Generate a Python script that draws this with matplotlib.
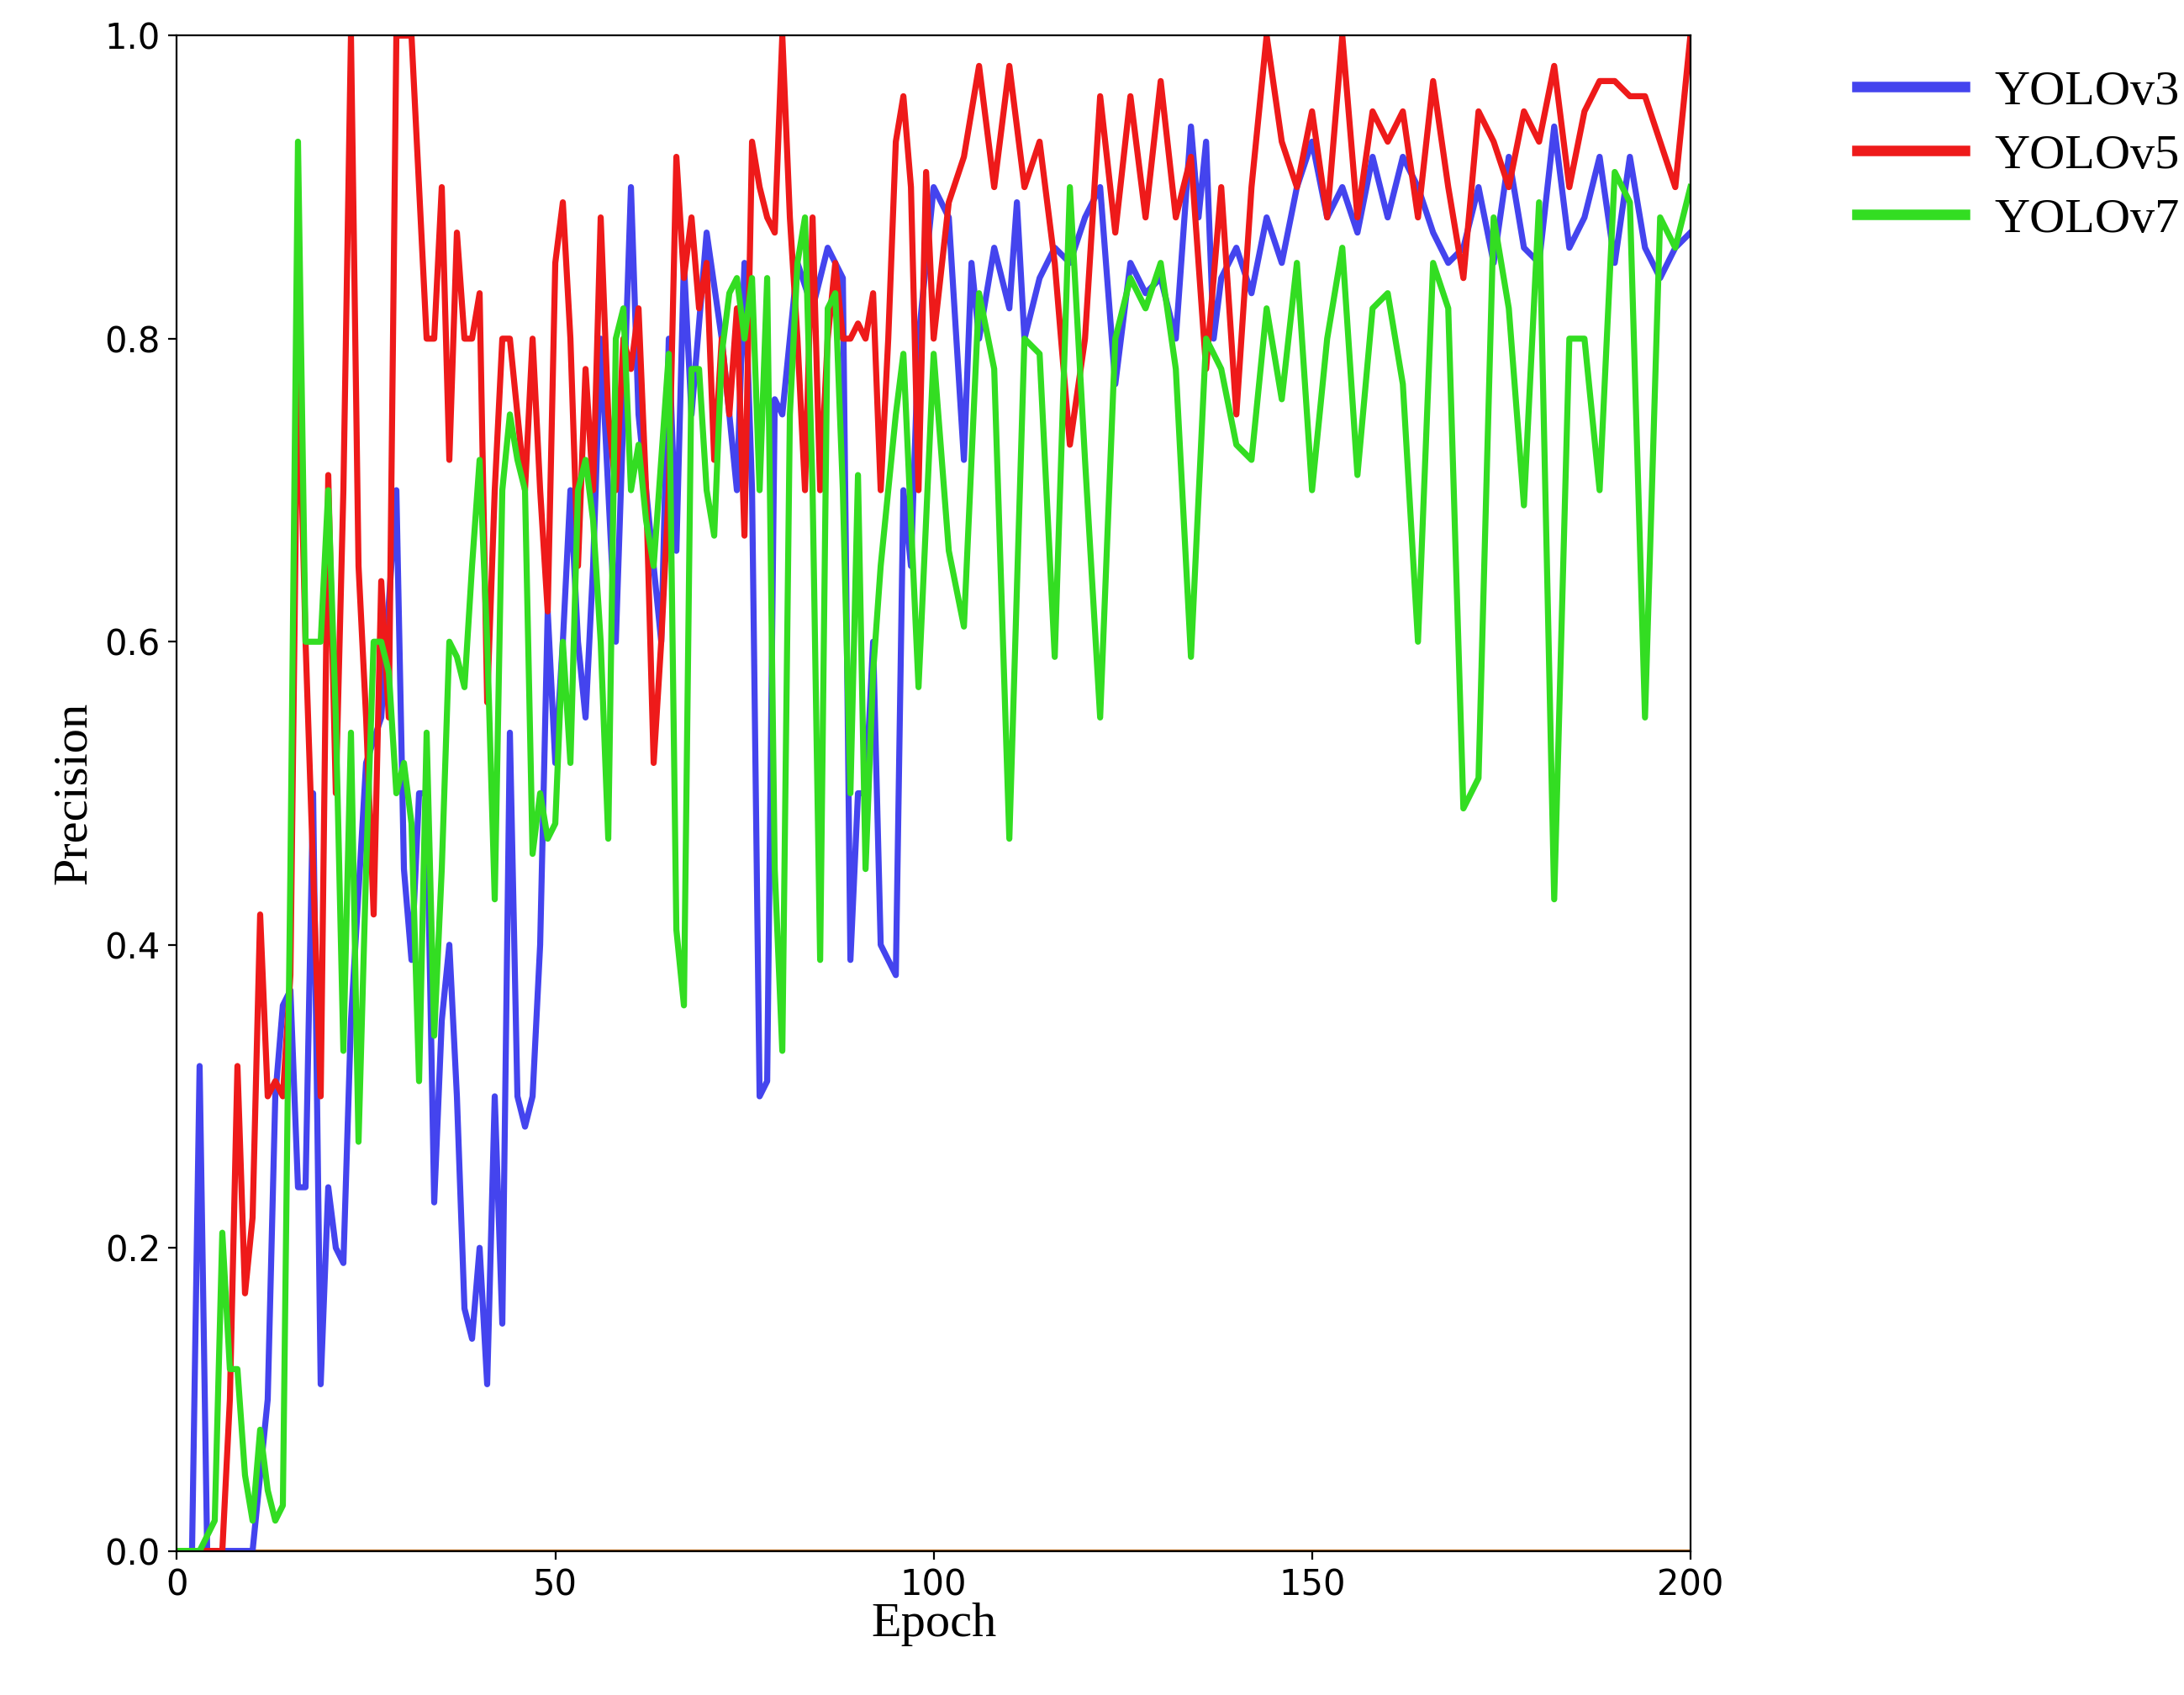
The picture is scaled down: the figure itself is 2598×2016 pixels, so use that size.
import matplotlib
matplotlib.use("Agg")
import matplotlib.pyplot as plt

v3_epoch = [0,2,3,4,10,12,13,14,15,16,17,18,19,20,21,22,23,25,27,29,30,31,32,33,34,35,36,37,38,39,40,41,42,43,44,45,46,47,48,49,50,51,52,53,54,55,56,57,58,59,60,61,62,63,64,65,66,67,68,70,72,74,75,76,77,78,79,80,82,84,86,88,89,90,91,92,93,94,95,96,97,98,100,102,104,105,106,108,110,111,112,114,116,118,120,122,124,126,128,130,132,134,135,136,137,138,140,142,144,146,148,150,152,154,156,158,160,162,164,166,168,170,172,174,176,178,180,182,184,186,188,190,192,194,196,198,200]
v3_val = [0,0,0.32,0,0,0.1,0.3,0.36,0.37,0.24,0.24,0.5,0.11,0.24,0.2,0.19,0.35,0.52,0.55,0.7,0.45,0.39,0.5,0.5,0.23,0.35,0.4,0.3,0.16,0.14,0.2,0.11,0.3,0.15,0.54,0.3,0.28,0.3,0.4,0.62,0.52,0.6,0.7,0.6,0.55,0.65,0.8,0.7,0.6,0.75,0.9,0.75,0.7,0.65,0.6,0.8,0.66,0.85,0.75,0.87,0.8,0.7,0.85,0.7,0.3,0.31,0.76,0.75,0.85,0.82,0.86,0.84,0.39,0.5,0.5,0.6,0.4,0.39,0.38,0.7,0.65,0.8,0.9,0.88,0.72,0.85,0.8,0.86,0.82,0.89,0.8,0.84,0.86,0.85,0.88,0.9,0.77,0.85,0.83,0.84,0.8,0.94,0.88,0.93,0.8,0.84,0.86,0.83,0.88,0.85,0.9,0.93,0.88,0.9,0.87,0.92,0.88,0.92,0.9,0.87,0.85,0.86,0.9,0.85,0.92,0.86,0.85,0.94,0.86,0.88,0.92,0.85,0.92,0.86,0.84,0.86,0.87]

v5_epoch = [0,6,7,8,9,10,11,12,13,14,15,16,17,18,19,20,21,22,23,24,25,26,27,28,29,30,31,32,33,34,35,36,37,38,39,40,41,42,43,44,45,46,47,48,49,50,51,52,53,54,55,56,57,58,59,60,61,62,63,64,65,66,67,68,69,70,71,72,73,74,75,76,77,78,79,80,81,82,83,84,85,86,87,88,89,90,91,92,93,94,95,96,97,98,99,100,102,104,106,108,110,112,114,116,118,120,122,124,126,128,130,132,134,136,138,140,142,144,146,148,150,152,154,156,158,160,162,164,166,168,170,172,174,176,178,180,182,184,186,188,190,192,194,196,198,200]
v5_val = [0,0,0.1,0.32,0.17,0.22,0.42,0.3,0.31,0.3,0.38,0.8,0.6,0.45,0.3,0.71,0.5,0.7,1.0,0.65,0.55,0.42,0.64,0.55,1.0,1.0,1.0,0.9,0.8,0.8,0.9,0.72,0.87,0.8,0.8,0.83,0.56,0.7,0.8,0.8,0.75,0.7,0.8,0.7,0.62,0.85,0.89,0.8,0.65,0.78,0.7,0.88,0.75,0.7,0.8,0.78,0.82,0.7,0.52,0.6,0.7,0.92,0.84,0.88,0.82,0.85,0.72,0.8,0.75,0.82,0.67,0.93,0.9,0.88,0.87,1.0,0.88,0.8,0.7,0.88,0.7,0.8,0.85,0.8,0.8,0.81,0.8,0.83,0.7,0.8,0.93,0.96,0.9,0.7,0.91,0.8,0.89,0.92,0.98,0.9,0.98,0.9,0.93,0.85,0.73,0.8,0.96,0.87,0.96,0.88,0.97,0.88,0.92,0.78,0.9,0.75,0.9,1.0,0.93,0.9,0.95,0.88,1.0,0.88,0.95,0.93,0.95,0.88,0.97,0.9,0.84,0.95,0.93,0.9,0.95,0.93,0.98,0.9,0.95,0.97,0.97,0.96,0.96,0.93,0.9,1.0]

v7_epoch = [0,3,5,6,7,8,9,10,11,12,13,14,15,16,17,18,19,20,21,22,23,24,25,26,27,28,29,30,31,32,33,34,35,36,37,38,39,40,41,42,43,44,45,46,47,48,49,50,51,52,53,54,55,56,57,58,59,60,61,62,63,64,65,66,67,68,69,70,71,72,73,74,75,76,77,78,79,80,81,82,83,84,85,86,87,88,89,90,91,92,93,94,95,96,98,100,102,104,106,108,110,112,114,116,118,120,122,124,126,128,130,132,134,136,138,140,142,144,146,148,150,152,154,156,158,160,162,164,166,168,170,172,174,176,178,180,182,184,186,188,190,192,194,196,198,200]
v7_val = [0,0,0.02,0.21,0.12,0.12,0.05,0.02,0.08,0.04,0.02,0.03,0.45,0.93,0.6,0.6,0.6,0.7,0.55,0.33,0.54,0.27,0.45,0.6,0.6,0.58,0.5,0.52,0.48,0.31,0.54,0.34,0.45,0.6,0.59,0.57,0.65,0.72,0.6,0.43,0.7,0.75,0.72,0.7,0.46,0.5,0.47,0.48,0.6,0.52,0.7,0.72,0.68,0.6,0.47,0.8,0.82,0.7,0.73,0.68,0.65,0.72,0.79,0.41,0.36,0.78,0.78,0.7,0.67,0.79,0.83,0.84,0.8,0.84,0.7,0.84,0.45,0.33,0.75,0.85,0.88,0.7,0.39,0.82,0.83,0.7,0.5,0.71,0.45,0.58,0.65,0.7,0.75,0.79,0.57,0.79,0.66,0.61,0.83,0.78,0.47,0.8,0.79,0.59,0.9,0.72,0.55,0.8,0.84,0.82,0.85,0.78,0.59,0.8,0.78,0.73,0.72,0.82,0.76,0.85,0.7,0.8,0.86,0.71,0.82,0.83,0.77,0.6,0.85,0.82,0.49,0.51,0.88,0.82,0.69,0.89,0.43,0.8,0.8,0.7,0.91,0.89,0.55,0.88,0.86,0.9]

fig = plt.figure(figsize=(12.99, 10.08), dpi=200)
ax = fig.add_axes([0.081, 0.085, 0.693, 0.894])
ax.plot([0, 200], [0, 0], color="#c07020", lw=1.5)
ax.plot(v3_epoch, v3_val, color="#4444ee", lw=2.6, label="YOLOv3")
ax.plot(v5_epoch, v5_val, color="#ee1a1a", lw=2.6, label="YOLOv5")
ax.plot(v7_epoch, v7_val, color="#33dd22", lw=2.6, label="YOLOv7")
ax.set_xlim(0, 200)
ax.set_ylim(0, 1.0)
ax.set_xticks([0, 50, 100, 150, 200])
ax.set_yticks([0, 0.2, 0.4, 0.6, 0.8, 1.0])
ax.tick_params(labelsize=15)
ax.set_xlabel("Epoch", family="Liberation Serif", fontsize=21, labelpad=0)
ax.set_ylabel("Precision", family="Liberation Serif", fontsize=21, labelpad=4)
leg = fig.legend(loc="upper left", bbox_to_anchor=(0.83, 0.985), frameon=False,
                 prop={"family": "Liberation Serif", "size": 21}, handlelength=2.2,
                 handletextpad=0.6, labelspacing=0.4)
for ln in leg.get_lines():
    ln.set_linewidth(4.5)
fig.savefig("out.png")
